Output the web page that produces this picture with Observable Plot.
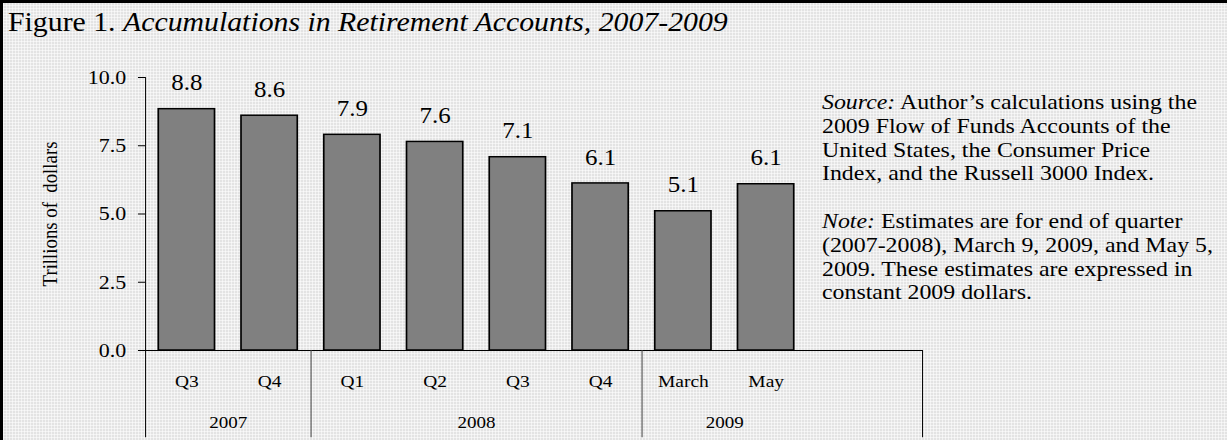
<!DOCTYPE html>
<html>
<head>
<meta charset="utf-8">
<script src="https://cdn.jsdelivr.net/npm/d3@7"></script>
<script src="https://cdn.jsdelivr.net/npm/@observablehq/plot@0.6"></script>
<style>
  html, body { margin: 0; padding: 0; }
  #page {
    position: relative; width: 1227px; height: 440px; overflow: hidden;
    background-color: #e3e3e3;
    background-image:
      linear-gradient(90deg, rgba(255,255,255,0.55) 1px, transparent 1px),
      linear-gradient(0deg, rgba(255,255,255,0.55) 1px, transparent 1px);
    background-size: 3px 3px;
    border-top: 3px solid #000; border-left: 3px solid #000;
    box-sizing: border-box;
    font-family: "Liberation Serif", "Times New Roman", serif;
    color: #000;
  }
  .stretch { transform: scaleX(1.12); transform-origin: 0 0; }
  #title { position: absolute; left: 5px; top: 5px; font-size: 26.6px; line-height: 28px; white-space: nowrap; }
  #note { position: absolute; left: 819px; top: 88px; font-size: 20.4px; line-height: 23.8px; white-space: nowrap;
          transform: scaleX(1.17); transform-origin: 0 0; }
  #note p { margin: 0; }
  #note p + p { margin-top: 23.8px; }
  #chart { position: absolute; left: -3px; top: -3px; }
  #chart svg { transform: scaleX(1.12); transform-origin: 0 0; background: transparent !important; overflow: visible; }
</style>
</head>
<body>
<div id="page">
  <div id="title" class="stretch">Figure 1. <i>Accumulations in Retirement Accounts, 2007-2009</i></div>
  <div id="chart"></div>
  <div id="note">
    <p><i>Source:</i> Author’s calculations using the<br>
    2009 Flow of Funds Accounts of the<br>
    United States, the Consumer Price<br>
    Index, and the Russell 3000 Index.</p>
    <p><i>Note:</i> Estimates are for end of quarter<br>
    (2007-2008), March 9, 2009, and May 5,<br>
    2009. These estimates are expressed in<br>
    constant 2009 dollars.</p>
  </div>
</div>
<script>
const categories = ["2007 Q3","2007 Q4","2008 Q1","2008 Q2","2008 Q3","2008 Q4","2009 March","2009 May"];
const catLabels  = ["Q3","Q4","Q1","Q2","Q3","Q4","March","May"];
const values     = [8.84, 8.6, 7.9, 7.64, 7.08, 6.12, 5.1, 6.09];
const valueLabels = ["8.8","8.6","7.9","7.6","7.1","6.1","5.1","6.1"];
const years      = ["2007","2008","2009"];
const yearFirst  = ["2007 Q3","2008 Q1","2009 March"];
const yearCount  = [2, 4, 2];
const yTicks     = [0, 2.5, 5, 7.5, 10];
const yLabel     = "Trillions of  dollars";

// the chart is drawn in a narrower frame, then widened by S (as in the original figure)
const S = 1.12;
const W = 1227 / S, H = 440;
const mL = 145 / S, mT = 77, mB = 90;
const frameRight = 922 / S;
const mR = W - frameRight;
const xRange = [mL, mL + 8 * 82.75 / S];
const xOpts = {type: "band", domain: categories, range: xRange, paddingInner: 0.32, paddingOuter: 0.16, round: false};
const xs = Plot.scale({x: xOpts});
const step = xs.step ?? (xRange[1] - xRange[0]) / 8;
const bw = xs.bandwidth;
const endDx = frameRight - (xs.apply("2009 May") + bw / 2);

const data = categories.map((c, i) => ({cat: c, label: catLabels[i], value: values[i], vlabel: valueLabels[i]}));
const groups = years.map((y, i) => ({year: y, first: yearFirst[i], n: yearCount[i]}));
const bottomY = -3.2;
const font = "'Liberation Serif', 'Times New Roman', serif";

const chart = Plot.plot({
  width: W, height: H,
  marginLeft: mL, marginRight: mR, marginTop: mT, marginBottom: mB,
  style: {fontFamily: font, background: "transparent", color: "#000"},
  x: {...xOpts, axis: null},
  y: {domain: [0, 10], axis: null},
  marks: [
    Plot.barY(data, {x: "cat", y: "value", fill: "#808080", stroke: "#000", strokeWidth: 1.5}),
    Plot.ruleY([0], {stroke: "#000", strokeWidth: 1}),
    Plot.axisY({ticks: yTicks, tickFormat: d3.format(".1f"), tickSize: 6.3, tickPadding: 11, fontSize: 19.6, anchor: "left", label: null}),
    // y-axis line, extended down through the category area
    Plot.ruleX([categories[0]], {x: d => d, dx: -step / 2, y1: 10, y2: bottomY, stroke: "#000", strokeWidth: 0.9}),
    // group dividers
    Plot.ruleX(groups.slice(1), {x: "first", dx: -step / 2, y1: 0, y2: bottomY, stroke: "#444", strokeWidth: 0.9}),
    Plot.ruleX([categories[categories.length - 1]], {x: d => d, dx: endDx, y1: 0, y2: bottomY, stroke: "#000", strokeWidth: 0.9}),
    // value labels
    Plot.text(data, {x: "cat", y: "value", text: "vlabel", dy: -26, fontSize: 22.3, lineAnchor: "middle"}),
    // category labels
    Plot.text(data, {x: "cat", y: 0, text: "label", dy: 31, fontSize: 17.4, lineAnchor: "middle"}),
    // year labels (centred on their group)
    Plot.text(groups.filter(g => g.n === 2), {x: "first", y: 0, text: "year", dx: step / 2, dy: 72, fontSize: 17, lineAnchor: "middle"}),
    Plot.text(groups.filter(g => g.n === 4), {x: "first", y: 0, text: "year", dx: step * 1.5, dy: 72, fontSize: 17, lineAnchor: "middle"}),
    // y label
    Plot.text([yLabel], {frameAnchor: "left", textAnchor: "middle", rotate: -90, dx: -95 / S, fontSize: 18.8, lineAnchor: "middle"})
  ]
});
document.getElementById("chart").appendChild(chart);
</script>
</body>
</html>
